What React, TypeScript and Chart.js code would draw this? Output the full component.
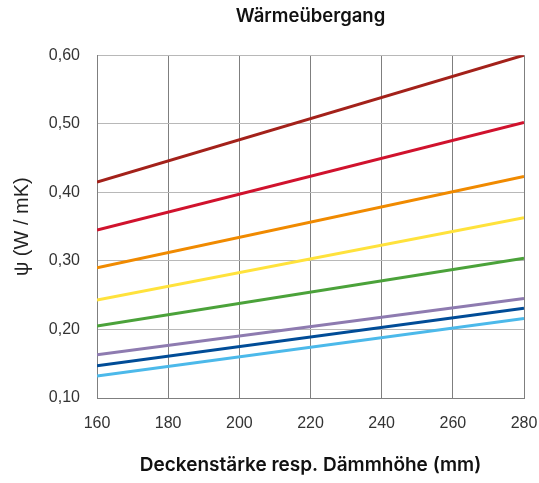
import React, { useEffect, useRef } from "react";
import { Chart, registerables } from "chart.js";

Chart.register(...registerables);

const chartTitle = "Wärmeübergang";
const xAxisTitle = "Deckenstärke resp. Dämmhöhe (mm)";
const yAxisTitle = "ψ (W / mK)";

const xValues = [160, 280];
const xMin = 160;
const xMax = 280;
const xStep = 20;
const yMin = 0.1;
const yMax = 0.6;
const yStep = 0.1;

const seriesColors = ["#A3211A", "#D0122D", "#F08A00", "#FFE23C", "#4BA23A", "#8E7BB0", "#004C97", "#4CB9EA"];
const s1 = [0.415, 0.6];
const s2 = [0.345, 0.502];
const s3 = [0.29, 0.423];
const s4 = [0.243, 0.363];
const s5 = [0.205, 0.304];
const s6 = [0.163, 0.245];
const s7 = [0.147, 0.231];
const s8 = [0.132, 0.216];
const allSeries = [s1, s2, s3, s4, s5, s6, s7, s8];

export default function App() {
  const ref = useRef<HTMLCanvasElement | null>(null);

  useEffect(() => {
    if (!ref.current) return;
    const datasets = allSeries.map((s, i) => ({
      label: "S" + (i + 1),
      data: xValues.map((x, j) => ({ x, y: s[j] })),
      borderColor: seriesColors[i],
      backgroundColor: seriesColors[i],
      borderWidth: 3,
      pointRadius: 0,
      fill: false,
    }));
    const chart = new Chart(ref.current, {
      type: "line",
      data: { datasets },
      options: {
        responsive: false,
        animation: false,
        layout: { padding: { left: 0, right: 0, top: 0, bottom: 0 } },
        plugins: {
          legend: { display: false },
          tooltip: { enabled: false },
          title: {
            display: true,
            text: chartTitle,
            fullSize: false,
            color: "#111",
            font: { family: "Inter", size: 18.5, weight: "600" },
            padding: { top: 5, bottom: 28 },
          },
        },
        scales: {
          x: {
            type: "linear",
            min: xMin,
            max: xMax,
            afterFit: (s: any) => {
              s.height = 85;
              s.paddingRight = 15;
              s.paddingLeft = 0;
            },
            ticks: {
              stepSize: xStep,
              padding: 16,
              maxRotation: 0,
              color: "#333",
              font: { family: "Liberation Sans", size: 16 },
            },
            grid: { color: "#7f7f7f", lineWidth: 1, drawTicks: false },
            border: { display: true, color: "#7f7f7f" },
            title: {
              display: true,
              text: xAxisTitle,
              color: "#111",
              font: { family: "Inter", size: 19, weight: "600" },
              padding: { top: 0, bottom: 6 },
            },
          },
          y: {
            type: "linear",
            min: yMin,
            max: yMax,
            afterFit: (s: any) => {
              s.width = 97;
            },
            ticks: {
              stepSize: yStep,
              padding: 17,
              color: "#333",
              font: { family: "Liberation Sans", size: 16 },
              callback: (v: any) => Number(v).toFixed(2).replace(".", ","),
            },
            grid: {
              color: (ctx: any) => (ctx.tick && Math.abs(ctx.tick.value - yMin) < 1e-6 ? "#7f7f7f" : "#b8b8b8"),
              lineWidth: 1,
              drawTicks: false,
            },
            border: { display: true, color: "#7f7f7f" },
            title: {
              display: true,
              text: yAxisTitle,
              color: "#222",
              font: { family: "Liberation Sans", size: 20 },
              padding: { top: 10, bottom: 0 },
            },
          },
        },
      },
    });
    return () => chart.destroy();
  }, []);

  return (
    <div style={{ position: "fixed", left: 0, top: 0, width: 539, height: 483, background: "#fff" }}>
      <canvas ref={ref} width={539} height={483} style={{ width: 539, height: 483, display: "block" }} />
    </div>
  );
}
